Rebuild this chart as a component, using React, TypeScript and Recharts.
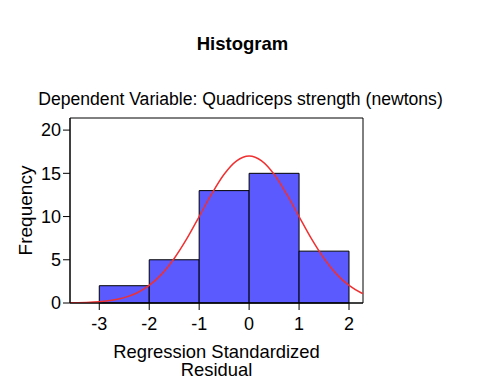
import React from "react";
import { ComposedChart, Line, XAxis, YAxis, ReferenceArea, Label } from "recharts";

const binStarts = [-3, -2, -1, 0, 1];
const binEnds = [-2, -1, 0, 1, 2];
const binCounts = [2, 5, 13, 15, 6];

const curveX = [-3.586, -3.5, -3.25, -3, -2.75, -2.5, -2.25, -2, -1.75, -1.5, -1.25, -1, -0.75, -0.5, -0.25, 0, 0.25, 0.5, 0.75, 1, 1.25, 1.5, 1.75, 2, 2.25, 2.28];
const curveY = [0.02, 0.03, 0.06, 0.14, 0.31, 0.62, 1.16, 2.03, 3.34, 5.15, 7.41, 10.0, 12.61, 14.89, 16.44, 17.0, 16.44, 14.89, 12.61, 10.0, 7.41, 5.15, 3.34, 2.03, 1.16, 1.08];

const xTicks = [-3, -2, -1, 0, 1, 2];
const yTicks = [0, 5, 10, 15, 20];
const xDomain = [-3.586, 2.28];
const yDomain = [0, 21.4];

const curve = curveX.map((x, i) => ({ x, y: curveY[i] }));
const bins = binStarts.map((s, i) => ({ x0: s, x1: binEnds[i], count: binCounts[i] }));

const FONT = "Arial, 'Liberation Sans', sans-serif";

export default function App() {
  return (
    <div style={{ position: "relative", width: 477, height: 379, fontFamily: FONT }}>
      <div style={{ position: "absolute", left: 0, width: 469, top: 26, textAlign: "center", fontWeight: "bold", fontSize: 18.5, lineHeight: "20px", color: "#000" }}>
        Histogram
      </div>
      <div style={{ position: "absolute", left: 0, width: 465, top: 81, textAlign: "center", fontSize: 17.6, lineHeight: "20px", color: "#000" }}>
        Dependent Variable: Quadriceps strength (newtons)
      </div>
      <ComposedChart
        width={477}
        height={379}
        data={curve}
        margin={{ top: 110, right: 122, bottom: 54, left: 20 }}
        style={{ fontFamily: FONT }}
      >
        <XAxis
          dataKey="x"
          type="number"
          domain={xDomain}
          ticks={xTicks}
          allowDataOverflow
          height={30}
          axisLine={{ stroke: "#000" }}
          tickLine={{ stroke: "#000" }}
          tickSize={7}
          tickMargin={7}
          tick={{ fill: "#000", fontSize: 18 }}
        />
        <YAxis
          type="number"
          domain={yDomain}
          ticks={yTicks}
          allowDataOverflow
          width={42}
          axisLine={{ stroke: "#000" }}
          tickLine={{ stroke: "#000" }}
          tickSize={7}
          tickMargin={2}
          tick={{ fill: "#000", fontSize: 18 }}
        >
          <Label value="Frequency" angle={-90} position="insideLeft" offset={-3} style={{ textAnchor: "middle", fill: "#000", fontSize: 19 }} />
        </YAxis>
        {bins.map((b, i) => (
          <ReferenceArea key={i} x1={b.x0} x2={b.x1} y1={0} y2={b.count} fill="#5A5AFF" fillOpacity={1} stroke="#000" strokeWidth={1} />
        ))}
        <ReferenceArea x1={xDomain[0]} x2={xDomain[1]} y1={yDomain[0]} y2={yDomain[1]} fill="none" stroke="#000" strokeWidth={1} />
        <Line dataKey="y" type="monotone" stroke="#F03030" strokeWidth={1.5} dot={false} isAnimationActive={false} />
      </ComposedChart>
      <div style={{ position: "absolute", left: 62, width: 293, top: 335, textAlign: "center", fontSize: 18.4, lineHeight: "18px", color: "#000" }}>
        Regression Standardized
        <br />
        Residual
      </div>
    </div>
  );
}
